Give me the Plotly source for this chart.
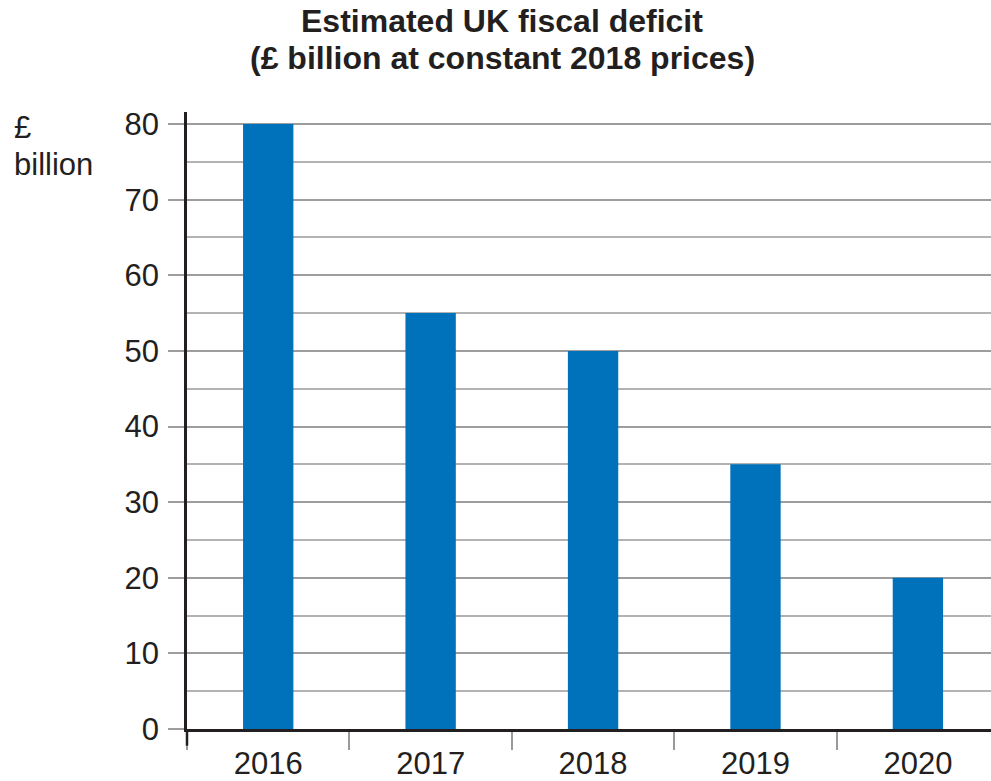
import plotly.graph_objects as go

years = ["2016", "2017", "2018", "2019", "2020"]
deficit = [80, 55, 50, 35, 20]
y_ticks = [0, 10, 20, 30, 40, 50, 60, 70, 80]
title_lines = ["Estimated UK fiscal deficit", "(£ billion at constant 2018 prices)"]
unit_lines = ["£", "billion"]

ink = "#231f20"
font = "Liberation Sans, Arial, sans-serif"

fig = go.Figure(go.Bar(x=years, y=deficit, marker=dict(color="#0072BC", line=dict(width=0)), width=0.31))

fig.update_layout(
    width=991, height=781,
    margin=dict(l=187, r=0, t=112, b=52),
    plot_bgcolor="white", paper_bgcolor="white",
    showlegend=False,
    font=dict(family=font, size=31, color=ink),
)

fig.update_xaxes(
    type="category", range=[-0.5, 4.45], automargin=False,
    showline=True, linecolor=ink, linewidth=2.5,
    ticks="outside", tickson="boundaries", ticklen=18, tickcolor="#9a9a9a", tickwidth=1.5,
    ticklabelstandoff=5,
    showgrid=False, tickfont=dict(size=31, color=ink),
)
fig.update_yaxes(
    range=[0, 81.59], tickvals=y_ticks, automargin=False,
    showline=True, linecolor=ink, linewidth=2.5,
    ticks="outside", ticklen=16, tickcolor="#9d9d9d", tickwidth=2,
    ticklabelstandoff=3,
    showgrid=True, gridcolor="#9d9d9d", gridwidth=2,
    minor=dict(dtick=5, showgrid=True, gridcolor="#b3b3b3", gridwidth=1.5, ticks=""),
    zeroline=False, tickfont=dict(size=31, color=ink),
)

# extend y axis line below the x axis
fig.add_shape(type="line", xref="paper", yref="paper", x0=0, x1=0, y0=0, y1=-0.027,
              line=dict(color=ink, width=2.5))

# title lines
for text, yp in zip(title_lines, [1.1475, 1.0875]):
    fig.add_annotation(text="<b>" + text + "</b>", xref="paper", yref="paper",
                       x=0.392, y=yp, xanchor="center", yanchor="middle",
                       showarrow=False, font=dict(family=font, size=32, color=ink))

# unit label
for text, yp in zip(unit_lines, [1.006, 0.946]):
    fig.add_annotation(text=text, xref="paper", yref="paper",
                       x=-0.218, y=yp, xanchor="left", yanchor="top", align="left",
                       showarrow=False, font=dict(family=font, size=31, color=ink))

fig.write_html("out.html")
